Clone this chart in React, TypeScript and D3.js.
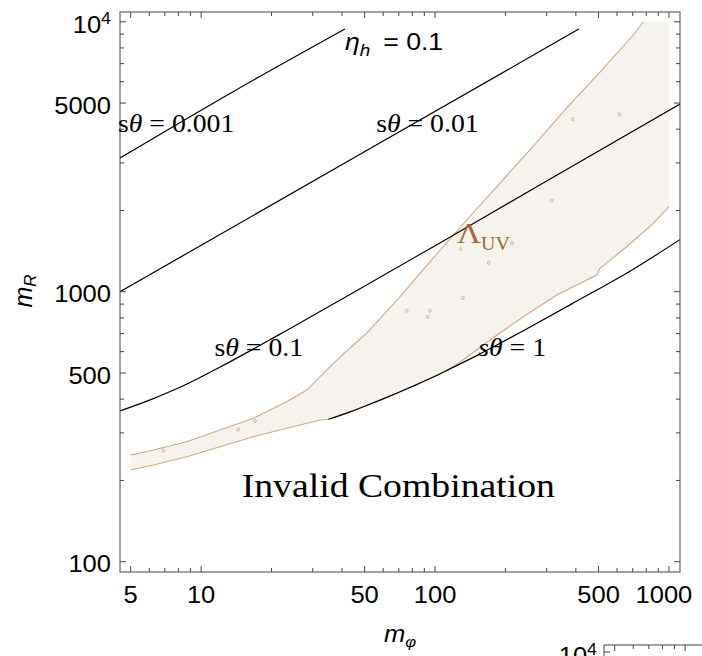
import React from 'react'
import * as d3 from 'd3'

// axis ticks (log axes)
const xMajorTicks = [5, 10, 50, 100, 500, 1000]
const xMajorLabels = ['5', '10', '50', '100', '500', '1000']
const xMinorTicks = [6, 7, 8, 9, 20, 30, 40, 60, 70, 80, 90, 200, 300, 400, 600, 700, 800, 900]
const yMajorTicks = [100, 500, 1000, 5000, 10000]
const yMajorLabels = ['100', '500', '1000', '5000', '10^4']
const yMinorTicks = [200, 300, 400, 600, 700, 800, 900, 2000, 3000, 4000, 6000, 7000, 8000, 9000]
const insetTicks = [5, 6, 7, 8, 9, 10]

// contours of constant s-theta, [m_phi, m_R]
const sTheta0001 = [[4.5, 3129], [13.7, 5510], [41.2, 9400]]
const sTheta001 = [[4.5, 1000], [43.3, 3076], [412, 9400]]
const sTheta01 = [
  [4.5, 362], [6.25, 402], [8.7, 455], [12, 525], [16.7, 613], [23.2, 719],
  [43.3, 976], [98, 1466], [263, 2406], [1115, 4955],
]
const sTheta1 = [
  [35, 337], [43.3, 359], [51, 379], [60, 401], [70.9, 426], [83.5, 453],
  [98.3, 483], [115.9, 518], [150.7, 580], [189.6, 644], [238.5, 717],
  [390, 908], [704, 1212], [1115, 1560],
]

// Lambda_UV allowed region
const regionUpper = [
  [5, 248.5], [6.25, 259.3], [8.68, 278.3], [12.04, 307.5], [16.72, 339.8],
  [23.22, 391.4], [28.28, 432.5], [32.23, 484.5], [36.75, 543], [44.74, 635],
  [51.05, 702], [70.86, 959], [98.3, 1334], [136.6, 1844], [189.6, 2528],
  [263.1, 3466], [365.5, 4794], [507.4, 6515], [704.2, 8932], [777, 10000],
]
const regionLower = [
  [5, 218.6], [6.25, 228.1], [8.68, 244.9], [12.04, 266.7], [16.72, 290.5],
  [23.22, 312], [32.23, 334.9], [35, 337], [43.3, 359], [51, 379], [60, 401],
  [70.9, 426], [83.5, 453], [98.3, 483], [115.9, 518], [132.1, 560],
  [171.8, 662.7], [238.5, 808.3], [331.3, 972.5], [491.2, 1153], [507.4, 1221],
  [659.7, 1468], [857.5, 1793], [1000, 2065],
]
const regionTopRight = [[1000, 10000]]
const artifactDots = [
  [387.8, 4353], [613.5, 4542], [315.4, 2174], [128.8, 1437], [213.4, 1511],
  [169.7, 1281], [131.7, 950], [75.7, 851], [95.2, 851], [93.1, 808],
  [6.89, 258], [14.4, 309], [17.0, 332],
]

const WIDTH = 702
const HEIGHT = 656
const frame = { left: 120, top: 12, right: 680, bottom: 572 }
const STRETCH = 1.11
const SANS = "'Liberation Sans', Arial, Helvetica, sans-serif"
const SERIF = "'Liberation Serif', 'Times New Roman', serif"
const FRAME_COLOR = '#444'
const REGION_FILL = '#f6f2ed'
const REGION_EDGE = '#d2a982'
const BROWN = '#9c6b38'

function Stretched({ x, y, anchor = 'start', size, family, fill = '#000', children }: any) {
  return (
    <g transform={`translate(${x},${y}) scale(${STRETCH},1)`}>
      <text textAnchor={anchor} fontSize={size} fontFamily={family} fill={fill}>
        {children}
      </text>
    </g>
  )
}

export default function App() {
  const x = d3.scaleLog().domain([4.5, 1115]).range([frame.left, frame.right])
  const y = d3.scaleLog().domain([91.6, 10870]).range([frame.bottom, frame.top])

  const straight = d3.line<number[]>().x((d) => x(d[0])).y((d) => y(d[1]))
  const smooth = d3
    .line<number[]>()
    .x((d) => x(d[0]))
    .y((d) => y(d[1]))
    .curve(d3.curveMonotoneX)

  const regionOutline = [
    ...regionUpper,
    ...regionTopRight,
    ...regionLower.slice().reverse(),
  ]

  const majorLen = 6
  const minorLen = 4
  const xTicks = [
    ...xMajorTicks.map((v) => ({ v, len: majorLen })),
    ...xMinorTicks.map((v) => ({ v, len: minorLen })),
  ]
  const yTicks = [
    ...yMajorTicks.map((v) => ({ v, len: majorLen })),
    ...yMinorTicks.map((v) => ({ v, len: minorLen })),
  ]

  // next panel below, mostly cut off by the page edge
  const inset = { left: 604, top: 645, dx: 484, tickY: 652 }

  return (
    <svg
      width={WIDTH}
      height={HEIGHT}
      style={{ position: 'absolute', left: 0, top: 0, background: '#fff' }}
    >
      <defs>
        <clipPath id="plot-clip">
          <rect
            x={frame.left}
            y={frame.top}
            width={frame.right - frame.left}
            height={frame.bottom - frame.top}
          />
        </clipPath>
      </defs>

      <g clipPath="url(#plot-clip)">
        <path d={straight(regionOutline) + 'Z'} fill={REGION_FILL} stroke="none" />
        <path d={straight(regionUpper) ?? ''} fill="none" stroke={REGION_EDGE} strokeWidth={1.1} />
        <path d={straight(regionLower) ?? ''} fill="none" stroke={REGION_EDGE} strokeWidth={1.1} />
        {artifactDots.map((d, i) => (
          <ellipse
            key={i}
            cx={x(d[0])}
            cy={y(d[1])}
            rx={1.3}
            ry={1.6}
            fill="none"
            stroke={REGION_EDGE}
            strokeWidth={0.9}
          />
        ))}

        {[sTheta0001, sTheta001, sTheta01, sTheta1].map((s, i) => (
          <path key={i} d={smooth(s) ?? ''} fill="none" stroke="#000" strokeWidth={1.2} />
        ))}
      </g>

      {/* frame */}
      <rect
        x={frame.left}
        y={frame.top}
        width={frame.right - frame.left}
        height={frame.bottom - frame.top}
        fill="none"
        stroke={FRAME_COLOR}
        strokeWidth={1}
      />
      {xTicks.map(({ v, len }) => (
        <g key={`x${v}`} stroke={FRAME_COLOR} strokeWidth={1}>
          <line x1={x(v)} x2={x(v)} y1={frame.bottom} y2={frame.bottom - len} />
          <line x1={x(v)} x2={x(v)} y1={frame.top} y2={frame.top + len} />
        </g>
      ))}
      {yTicks.map(({ v, len }) => (
        <g key={`y${v}`} stroke={FRAME_COLOR} strokeWidth={1}>
          <line x1={frame.left} x2={frame.left + len} y1={y(v)} y2={y(v)} />
          <line x1={frame.right} x2={frame.right - len} y1={y(v)} y2={y(v)} />
        </g>
      ))}

      {/* tick labels */}
      {xMajorTicks.map((v, i) => (
        <Stretched
          key={`xl${v}`}
          x={x(v) - (i === xMajorTicks.length - 1 ? 5 : 0)}
          y={603}
          anchor="middle"
          size={23}
          family={SANS}
        >
          {xMajorLabels[i]}
        </Stretched>
      ))}
      {yMajorTicks.map((v, i) =>
        yMajorLabels[i] === '10^4' ? (
          <Stretched key={`yl${v}`} x={111} y={y(v) + 11.5} anchor="end" size={23} family={SANS}>
            10
            <tspan fontSize={16} dy={-9}>
              4
            </tspan>
          </Stretched>
        ) : (
          <Stretched key={`yl${v}`} x={111} y={y(v) + 10.5} anchor="end" size={23} family={SANS}>
            {yMajorLabels[i]}
          </Stretched>
        ),
      )}

      {/* axis titles */}
      <g transform="translate(32,291) rotate(-90)">
        <text textAnchor="middle" fontFamily={SANS} fontSize={25} fontStyle="italic">
          m
          <tspan fontSize={17} dy={4}>
            R
          </tspan>
        </text>
      </g>
      <Stretched x={400} y={642} anchor="middle" size={23} family={SANS}>
        <tspan fontStyle="italic">m</tspan>
        <tspan fontStyle="italic" fontSize={15} dy={5}>
          φ
        </tspan>
      </Stretched>

      {/* annotations */}
      <Stretched x={x(41.2)} y={y(7860)} size={24} family={SANS}>
        <tspan fontStyle="italic">η</tspan>
        <tspan fontStyle="italic" fontSize={17} dy={6}>
          h
        </tspan>
        <tspan dy={-6} dx={5}>
          {' = 0.1'}
        </tspan>
      </Stretched>
      <Stretched x={x(4.41)} y={y(3915)} size={25} family={SERIF}>
        s<tspan fontStyle="italic">θ</tspan> = 0.001
      </Stretched>
      <Stretched x={x(56)} y={y(3915)} size={25} family={SERIF}>
        s<tspan fontStyle="italic">θ</tspan> = 0.01
      </Stretched>
      <Stretched x={x(11.4)} y={y(578)} size={25} family={SERIF}>
        s<tspan fontStyle="italic">θ</tspan> = 0.1
      </Stretched>
      <Stretched x={x(153)} y={y(578)} size={25} family={SERIF}>
        <tspan fontStyle="italic">sθ</tspan> = 1
      </Stretched>
      <Stretched x={x(124)} y={y(1511)} size={30} family={SERIF} fill={BROWN}>
        Λ
        <tspan fontSize={18} dy={6.5}>
          UV
        </tspan>
      </Stretched>
      <Stretched x={x(14.9)} y={y(174)} size={34} family={SERIF}>
        Invalid Combination
      </Stretched>

      {/* next panel, cut off at the page edge */}
      <path
        d={`M${inset.left},${HEIGHT} V${inset.top} H${WIDTH}`}
        fill="none"
        stroke={FRAME_COLOR}
        strokeWidth={1}
      />
      {insetTicks.map((v) => (
        <line
          key={`it${v}`}
          x1={x(v) + inset.dx}
          x2={x(v) + inset.dx}
          y1={inset.top}
          y2={inset.top + (v === 5 || v === 10 ? majorLen : minorLen)}
          stroke={FRAME_COLOR}
        />
      ))}
      <line
        x1={inset.left}
        x2={inset.left + majorLen}
        y1={inset.tickY}
        y2={inset.tickY}
        stroke={FRAME_COLOR}
      />
      <Stretched x={597} y={inset.tickY + 11.5} anchor="end" size={23} family={SANS}>
        10
        <tspan fontSize={16} dy={-9}>
          4
        </tspan>
      </Stretched>
    </svg>
  )
}
